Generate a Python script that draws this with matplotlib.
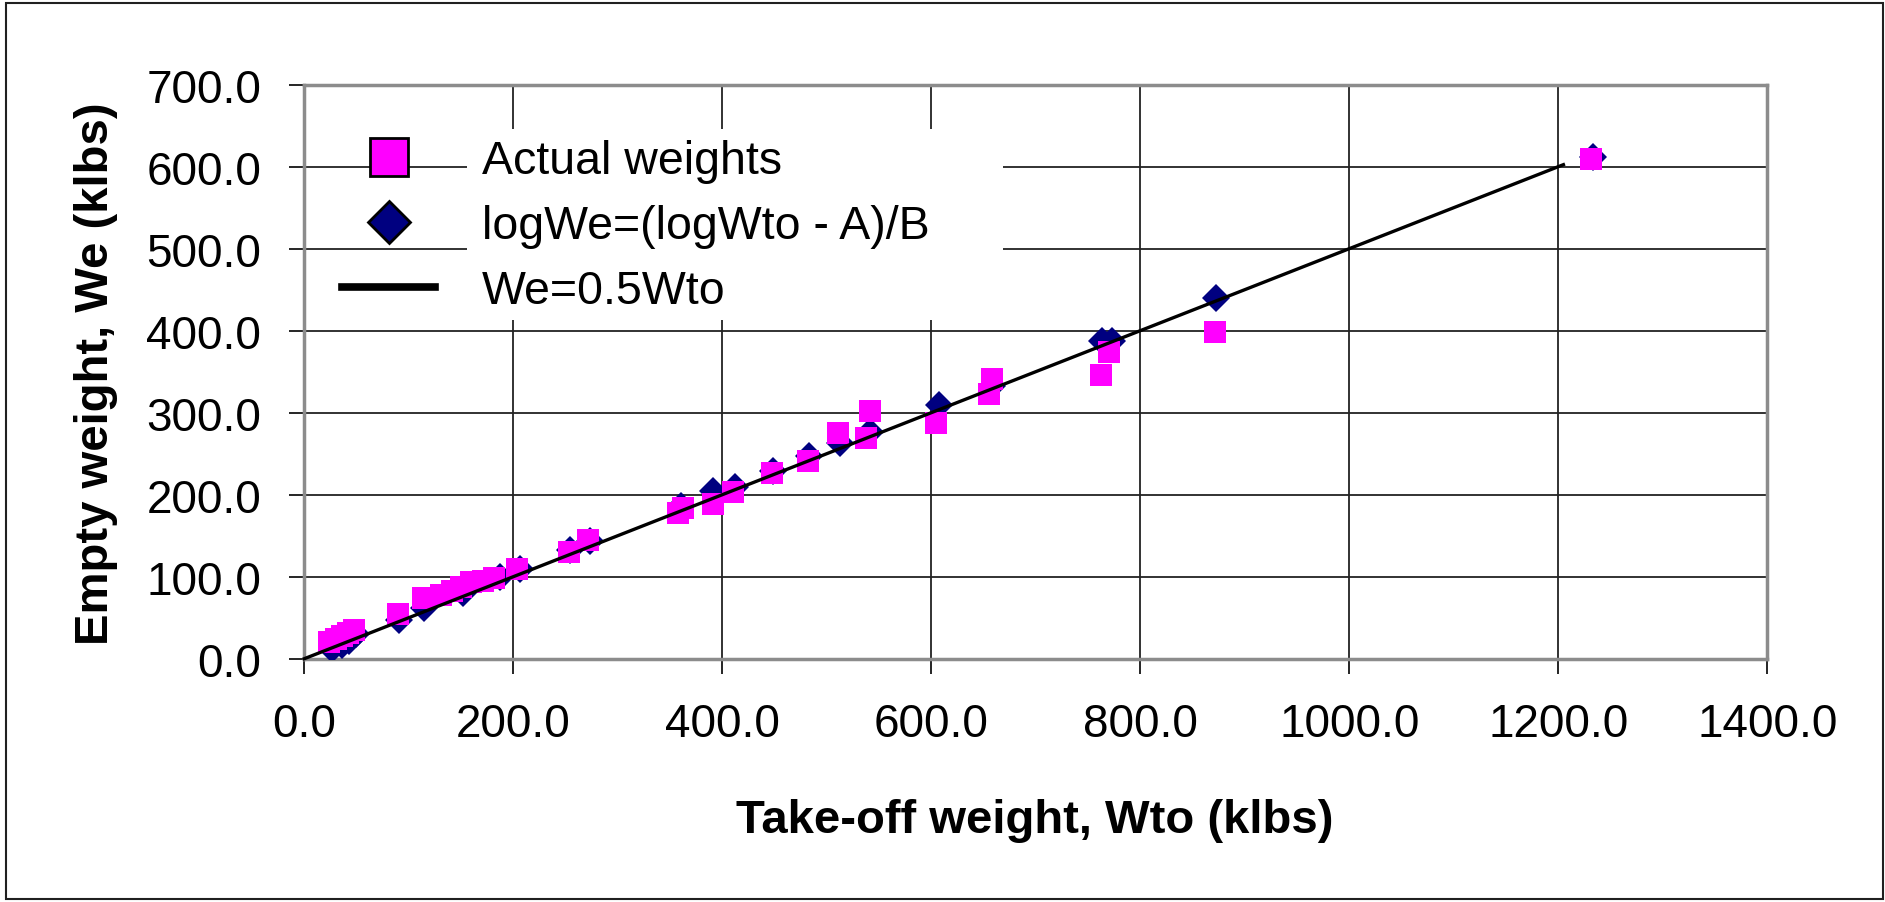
import matplotlib.pyplot as plt
from matplotlib.lines import Line2D
from matplotlib.patches import Rectangle

plt.rcParams['font.family'] = ['Liberation Sans', 'DejaVu Sans']

# take-off vs empty weight, klbs
wto_actual = [24, 30, 36, 42, 48, 90, 114, 131, 141, 150, 160, 171, 182, 204, 253, 272,
              358, 362, 391, 410, 448, 482, 511, 538, 541, 605, 655, 658, 762, 770, 872, 1231]
we_actual = [20, 24, 28, 31, 35, 54, 74, 78, 83, 87, 93, 95, 99, 109, 130, 145,
             178, 184, 189, 203, 226, 241, 275, 269, 302, 288, 323, 341, 346, 374, 399, 609]

# fitted log relation
wto_pred = [27, 36, 43, 50, 91, 115, 152, 187, 206, 254, 273, 361, 391, 412, 449, 483,
            513, 541, 607, 658, 763, 773, 873, 1233]
we_pred = [12, 17, 22, 30, 47, 62, 80, 100, 110, 133, 143, 186, 205, 209, 229, 247,
           263, 276, 310, 333, 387, 388, 440, 612]

# We = 0.5 Wto
wto_line = [0, 1205]
we_line = [0.5 * w for w in wto_line]

x_ticks = [0, 200, 400, 600, 800, 1000, 1200, 1400]
y_ticks = [0, 100, 200, 300, 400, 500, 600, 700]

fig = plt.figure(figsize=(18.85, 9.03), dpi=100)
ax = fig.add_axes([0.1614, 0.2694, 0.7761, 0.6357])

ax.plot(wto_pred, we_pred, 'D', color='#000080', ms=14, mew=0, zorder=3)
ax.plot(wto_actual, we_actual, 's', color='#ff00ff', ms=16.5, mew=0, zorder=4)
ax.plot(wto_line, we_line, '-', color='black', lw=2.4, zorder=5, clip_on=False)

ax.set_xlim(0, 1400)
ax.set_ylim(0, 700)
ax.set_xticks(x_ticks)
ax.set_yticks(y_ticks)
ax.set_xticklabels([f'{v:.1f}' for v in x_ticks])
ax.set_yticklabels([f'{v:.1f}' for v in y_ticks])
ax.tick_params(direction='out', length=11, width=1.2, color='black',
               labelsize=33, pad=20)

ax.set_axisbelow(True)
ax.grid(True, color='#222222', lw=1.3)
for s in ax.spines.values():
    s.set_color('#8c8c8c')
    s.set_linewidth(2.5)

# white area behind the legend text
ax.add_patch(Rectangle((156, 413), 513, 233, facecolor='white', edgecolor='none', zorder=1))

handles = [
    Line2D([], [], ls='none', marker='s', ms=28, mfc='#ff00ff', mec='black', mew=2),
    Line2D([], [], ls='none', marker='D', ms=21, mfc='#000080', mec='black', mew=2),
    Line2D([], [], color='black', lw=5.5),
]
labels = ['Actual weights', 'logWe=(logWto - A)/B', 'We=0.5Wto']
ax.legend(handles, labels, loc='upper left', bbox_to_anchor=(342 / 1885, 1 - 140 / 903),
          bbox_transform=fig.transFigure, frameon=False, fontsize=33.5,
          borderpad=0, borderaxespad=0, handlelength=2.0, handletextpad=1.0,
          labelspacing=0.45)

fig.text(1035 / 1885, 1 - 821 / 903, 'Take-off weight, Wto (klbs)', fontsize=34,
         fontweight='bold', ha='center', va='center')
fig.text(96 / 1885, 1 - 374 / 903, 'Empty weight, We (klbs)', fontsize=34,
         fontweight='bold', ha='center', va='center', rotation=90)

# outer frame
fig.patches.append(Rectangle((6 / 1885, 3 / 903), 1877 / 1885, 896 / 903,
                             transform=fig.transFigure, fill=False,
                             edgecolor='#202020', lw=1.5))

fig.savefig('out.png', dpi=100)
